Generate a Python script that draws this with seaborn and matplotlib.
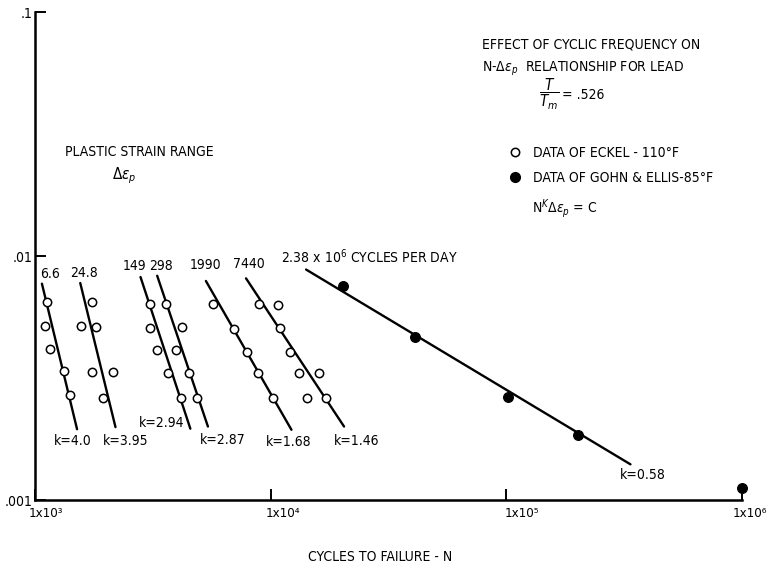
import numpy as np
import pandas as pd
import matplotlib
matplotlib.use("Agg")
import matplotlib.pyplot as plt
import matplotlib.transforms as mtransforms
import seaborn as sns
from matplotlib.lines import Line2D
from matplotlib.ticker import NullLocator

# ---- Eckel data, 110 °F (open circles) ----
eckel_freq = ["6.6", "24.8", "149", "298", "1990", "7440"]      # cycles per day
eckel_k = [4.0, 3.95, 2.94, 2.87, 1.68, 1.46]
eckel_k_text = ["k=4.0", "k=3.95", "k=2.94", "k=2.87", "k=1.68", "k=1.46"]
eckel_cycles = [
    [1123, 1106, 1156, 1332, 1405],
    [1742, 1573, 1820, 1750, 2148, 1940],
    [3071, 3083, 3285, 3675, 4152],
    [3589, 4212, 3954, 4510, 4853],
    [5678, 7003, 7911, 8843, 10200],
    [8892, 10710, 10970, 12040, 13210, 16050, 14210, 17100],
]
eckel_strain = [
    [0.0065, 0.00518, 0.00417, 0.00337, 0.00269],
    [0.0065, 0.00517, 0.00514, 0.00336, 0.00334, 0.00263],
    [0.00633, 0.00509, 0.0041, 0.00331, 0.00262],
    [0.00635, 0.00513, 0.00412, 0.00332, 0.00263],
    [0.00635, 0.00503, 0.00406, 0.00331, 0.00262],
    [0.00635, 0.00631, 0.00508, 0.00406, 0.0033, 0.00332, 0.00261, 0.00262],
]
# fitted N^k * strain = C lines: one point on each line and the strain span drawn
eckel_line_cycles = [1270, 1849, 3573, 4215, 8072, 12700]
eckel_line_strain = [0.00388, 0.00392, 0.00402, 0.00411, 0.00391, 0.00402]
eckel_line_top = [0.0077, 0.00775, 0.0082, 0.0083, 0.0079, 0.0081]
eckel_line_bottom = [0.00195, 0.00199, 0.00196, 0.0020, 0.00194, 0.0020]

# ---- Gohn & Ellis data, 85 °F (filled circles) ----
gohn_freq = r"2.38 x 10$^6$ CYCLES PER DAY"
gohn_k = 0.58
gohn_k_text = "k=0.58"
gohn_cycles = [20300, 41100, 102000, 202000, 1000000]
gohn_strain = [0.00757, 0.00466, 0.00264, 0.00184, 0.00112]
gohn_line_cycles = 68950
gohn_line_strain = 0.00351
gohn_line_top = 0.0088
gohn_line_bottom = 0.0014

x_ticks = [1e3, 1e4, 1e5, 1e6]
x_tick_labels = ["1x10\u00b3", "1x10\u2074", "1x10\u2075", "1x10\u2076"]
y_ticks = [0.001, 0.01, 0.1]
y_tick_labels = [".001", ".01", ".1"]


def line_ends(n0, s0, k, s_top, s_bot):
    """End points of log(strain) = C - k log(N) through (n0, s0)."""
    strains = np.array([s_top, s_bot])
    cycles = n0 * (s0 / strains) ** (1.0 / k)
    return cycles, strains


# tidy tables
pts = pd.DataFrame(
    [(f, n, s) for f, ns, ss in zip(eckel_freq, eckel_cycles, eckel_strain)
     for n, s in zip(ns, ss)],
    columns=["freq", "cycles", "strain"],
)
gohn_pts = pd.DataFrame({"cycles": gohn_cycles, "strain": gohn_strain})

rows = []
for f, k, n0, s0, st, sb in zip(eckel_freq, eckel_k, eckel_line_cycles,
                                eckel_line_strain, eckel_line_top, eckel_line_bottom):
    c, s = line_ends(n0, s0, k, st, sb)
    rows += [(f, c[0], s[0]), (f, c[1], s[1])]
gc, gs = line_ends(gohn_line_cycles, gohn_line_strain, gohn_k, gohn_line_top, gohn_line_bottom)
rows += [("gohn", gc[0], gs[0]), ("gohn", gc[1], gs[1])]
lines = pd.DataFrame(rows, columns=["freq", "cycles", "strain"])

# ---- figure ----
sns.set_theme(style="ticks")
plt.rcParams["font.family"] = ["DejaVu Sans"]
plt.rcParams["font.stretch"] = "condensed"
plt.rcParams["mathtext.fontset"] = "dejavusans"
plt.rcParams["text.color"] = "black"
plt.rcParams["axes.labelcolor"] = "black"
plt.rcParams["xtick.color"] = "black"
plt.rcParams["ytick.color"] = "black"

FS = 10
W, H = 771, 571
fig = plt.figure(figsize=(W / 100, H / 100), dpi=100)
ax = fig.add_axes([35 / W, 71 / H, 707 / W, 488 / H])
ax.set_xscale("log")
ax.set_yscale("log")

sns.lineplot(data=lines, x="cycles", y="strain", units="freq", estimator=None,
             sort=False, color="black", lw=1.7, ax=ax, legend=False)
sns.scatterplot(data=pts, x="cycles", y="strain", marker="o", s=36,
                color="white", edgecolor="black", linewidth=1.1, ax=ax,
                legend=False, zorder=3)
sns.scatterplot(data=gohn_pts, x="cycles", y="strain", marker="o", s=50,
                color="black", edgecolor="black", linewidth=0.8, ax=ax,
                legend=False, zorder=3, clip_on=False)

ax.set_xlim(1e3, 1e6)
ax.set_ylim(1e-3, 1e-1)
sns.despine(ax=ax)
for sp in ("left", "bottom"):
    ax.spines[sp].set_linewidth(1.8)
    ax.spines[sp].set_color("black")
ax.set_xticks(x_ticks)
ax.set_xticklabels(x_tick_labels, ha="left", fontsize=9.5)
ax.set_yticks(y_ticks)
ax.set_yticklabels(y_tick_labels, fontsize=FS)
ax.xaxis.set_minor_locator(NullLocator())
ax.yaxis.set_minor_locator(NullLocator())
ax.tick_params(direction="in", length=8, width=1.4, color="black",
               labelcolor="black")
ax.tick_params(axis="x", pad=5)
ax.tick_params(axis="y", pad=2)
# nudge the tick labels left (pixels) so the last one stays inside the figure
label_nudge = [-6, -5, -2, -9]
for lab, dx in zip(ax.get_xticklabels(), label_nudge):
    lab.set_transform(lab.get_transform()
                      + mtransforms.ScaledTranslation(dx / 100, 0, fig.dpi_scale_trans))
ax.set_xlabel("")
ax.set_ylabel("")
ax.grid(False)

# frequency labels above each line, k values below
freq_off = [(8, 10), (4, 10), (-6, 11), (4, 10), (0, 16), (3, 14)]
k_off = [(-4, -12, "center"), (10, -14, "center"), (-6, 6, "right"),
         (15, -13, "center"), (-3, -12, "center"), (13, -14, "center")]
for i, f in enumerate(eckel_freq):
    seg = lines[lines["freq"] == f]
    xt, yt = seg["cycles"].iloc[0], seg["strain"].iloc[0]
    xb, yb = seg["cycles"].iloc[1], seg["strain"].iloc[1]
    ax.annotate(f, (xt, yt), xytext=freq_off[i], textcoords="offset pixels",
                ha="center", va="center", fontsize=FS)
    dx, dy, ha = k_off[i]
    ax.annotate(eckel_k_text[i], (xb, yb), xytext=(dx, dy),
                textcoords="offset pixels", ha=ha, va="center", fontsize=FS)

seg = lines[lines["freq"] == "gohn"]
ax.annotate(gohn_freq, (seg["cycles"].iloc[0], seg["strain"].iloc[0]),
            xytext=(-25, 13), textcoords="offset pixels",
            ha="left", va="center", fontsize=FS)
ax.annotate(gohn_k_text, (seg["cycles"].iloc[1], seg["strain"].iloc[1]),
            xytext=(12, -11), textcoords="offset pixels",
            ha="center", va="center", fontsize=FS)


def ftxt(x, y, s, **kw):
    kw.setdefault("fontsize", FS)
    fig.text(x / W, 1 - y / H, s, **kw)


ftxt(65, 152, "PLASTIC STRAIN RANGE", ha="left", va="center")
ftxt(124, 176, r"$\Delta\epsilon_p$", ha="center", va="center", fontsize=11)
ftxt(482, 49, "EFFECT OF CYCLIC FREQUENCY ON", ha="left", va="baseline")
ftxt(482, 72, r"N-$\Delta\epsilon_p$  RELATIONSHIP FOR LEAD", ha="left", va="baseline")
ftxt(549, 94, r"$\dfrac{T}{T_m}$", ha="center", va="center", fontsize=11)
ftxt(562, 95, "= .526", ha="left", va="center")
ftxt(532, 213, r"N$^K$$\Delta\epsilon_p$ = C", ha="left", va="baseline")
ftxt(380, 557, "CYCLES TO FAILURE - N", ha="center", va="center")

handles = [
    Line2D([], [], marker="o", ls="none", ms=6, mfc="white", mec="black", mew=1.1),
    Line2D([], [], marker="o", ls="none", ms=7, mfc="black", mec="black"),
]
fig.legend(handles, ["DATA OF ECKEL - 110°F", "DATA OF GOHN & ELLIS-85°F"],
           loc="upper left", bbox_to_anchor=(508 / W, 1 - 146 / H),
           frameon=False, fontsize=FS, handlelength=1.0, handletextpad=0.8,
           borderpad=0, borderaxespad=0, labelspacing=0.8)

fig.savefig("out.png", dpi=100, facecolor="white")
